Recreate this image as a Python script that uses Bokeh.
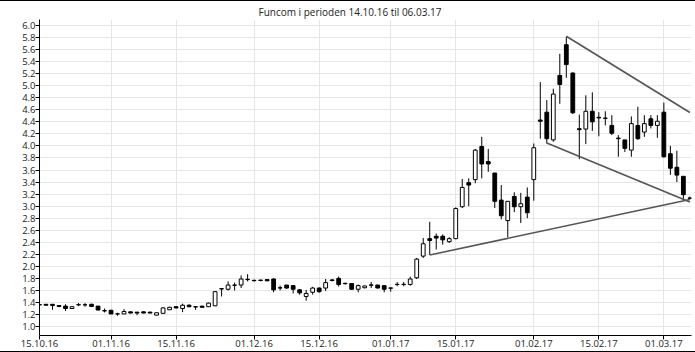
import numpy as np
import pandas as pd
from bokeh.plotting import figure
from bokeh.models import ColumnDataSource, FixedTicker, Range1d, NumeralTickFormatter
from bokeh.embed import file_html
from bokeh.resources import INLINE

title_text = "Funcom i perioden 14.10.16 til 06.03.17"

# Daily OHLC, one entry per trading day starting 17.10.16
opens = [1.365, 1.37, 1.37, 1.35, 1.34, 1.30, 1.36, 1.36, 1.37, 1.34,
         1.265, 1.27, 1.21, 1.21, 1.245, 1.24, 1.245, 1.24, 1.19, 1.22,
         1.28, 1.33, 1.30, 1.355, 1.33, 1.34, 1.33, 1.345, 1.625, 1.62,
         1.685, 1.69, 1.785, 1.768, 1.765, 1.78, 1.79, 1.645, 1.69, 1.68,
         1.61, 1.50, 1.57, 1.64, 1.64, 1.775, 1.80, 1.718, 1.715, 1.62,
         1.645, 1.692, 1.69, 1.68, 1.642, 1.702, 1.702, 1.70, 1.81, 2.17,
         2.46, 2.50, 2.50, 2.41, 2.46, 2.99, 3.39, 3.44, 3.99, 3.74,
         3.55, 3.10, 2.76, 3.16, 2.99, 3.15, 3.44, 4.43, 4.56, 4.10,
         5.17, 5.68, 5.21, 4.285, 4.28, 4.575, 4.475, 4.462, 4.34, 4.12,
         4.10, 3.93, 4.34, 4.23, 4.45, 4.34, 4.56, 3.87, 3.645, 3.495,
         3.135]
highs = [1.37, 1.375, 1.37, 1.35, 1.37, 1.33, 1.39, 1.39, 1.38, 1.34,
         1.30, 1.28, 1.23, 1.29, 1.25, 1.24, 1.25, 1.245, 1.23, 1.32,
         1.33, 1.34, 1.38, 1.37, 1.33, 1.345, 1.40, 1.59, 1.635, 1.75,
         1.73, 1.85, 1.87, 1.78, 1.78, 1.785, 1.80, 1.68, 1.69, 1.685,
         1.625, 1.61, 1.66, 1.65, 1.79, 1.79, 1.83, 1.73, 1.72, 1.70,
         1.68, 1.74, 1.695, 1.685, 1.645, 1.74, 1.74, 1.83, 2.14, 2.47,
         2.74, 2.545, 2.53, 2.485, 2.98, 3.45, 3.46, 3.95, 4.15, 3.95,
         3.55, 3.35, 3.08, 3.23, 3.22, 3.31, 4.04, 5.06, 4.76, 4.95,
         5.53, 5.81, 5.22, 4.52, 4.84, 4.89, 4.56, 4.575, 4.51, 4.18,
         4.10, 4.49, 4.65, 4.51, 4.51, 4.51, 4.72, 4.00, 3.92, 3.495,
         3.16]
lows = [1.35, 1.35, 1.28, 1.32, 1.26, 1.30, 1.34, 1.33, 1.33, 1.27,
        1.235, 1.21, 1.18, 1.21, 1.22, 1.19, 1.22, 1.22, 1.19, 1.22,
        1.28, 1.30, 1.24, 1.32, 1.28, 1.315, 1.33, 1.34, 1.50, 1.60,
        1.60, 1.64, 1.75, 1.75, 1.75, 1.755, 1.57, 1.60, 1.63, 1.55,
        1.53, 1.43, 1.53, 1.56, 1.59, 1.75, 1.665, 1.70, 1.61, 1.57,
        1.635, 1.64, 1.635, 1.57, 1.58, 1.67, 1.67, 1.68, 1.79, 2.14,
        2.19, 2.28, 2.36, 2.39, 2.45, 2.97, 3.00, 3.38, 3.46, 3.57,
        2.97, 2.78, 2.485, 2.90, 2.72, 2.80, 3.09, 4.12, 4.04, 4.07,
        4.70, 5.13, 4.53, 3.78, 4.03, 4.25, 4.16, 4.34, 4.18, 3.82,
        3.90, 3.82, 4.10, 4.15, 4.29, 4.135, 3.805, 3.52, 3.40, 3.11,
        3.11]
closes = [1.36, 1.355, 1.35, 1.335, 1.30, 1.33, 1.365, 1.362, 1.335, 1.275,
          1.26, 1.21, 1.212, 1.25, 1.225, 1.225, 1.225, 1.225, 1.23, 1.31,
          1.32, 1.31, 1.355, 1.33, 1.325, 1.32, 1.39, 1.58, 1.63, 1.69,
          1.69, 1.79, 1.78, 1.762, 1.772, 1.76, 1.61, 1.64, 1.64, 1.62,
          1.56, 1.55, 1.64, 1.58, 1.73, 1.765, 1.70, 1.712, 1.62, 1.68,
          1.675, 1.688, 1.64, 1.62, 1.638, 1.698, 1.698, 1.79, 2.12, 2.375,
          2.43, 2.47, 2.44, 2.46, 2.96, 3.31, 3.35, 3.93, 3.70, 3.70,
          3.08, 2.84, 3.08, 2.99, 3.04, 2.89, 3.97, 4.41, 4.12, 4.86,
          5.02, 5.35, 4.55, 4.27, 4.575, 4.40, 4.465, 4.458, 4.21, 4.13,
          3.96, 4.37, 4.12, 4.37, 4.34, 4.41, 3.82, 3.63, 3.515, 3.19,
          3.13]

first_day = "2016-10-17"
last_day = "2017-03-07"
holidays = ["2016-12-26"]

tick_dates = ["2016-10-15", "2016-11-01", "2016-11-15", "2016-12-01", "2016-12-15",
              "2017-01-01", "2017-01-15", "2017-02-01", "2017-02-15", "2017-03-01"]
tick_labels = ["15.10.16", "01.11.16", "15.11.16", "01.12.16", "15.12.16",
               "01.01.17", "15.01.17", "01.02.17", "15.02.17", "01.03.17"]
y_ticks = [1.0, 1.2, 1.4, 1.6, 1.8, 2.0, 2.2, 2.4, 2.6, 2.8, 3.0, 3.2, 3.4,
           3.6, 3.8, 4.0, 4.2, 4.4, 4.6, 4.8, 5.0, 5.2, 5.4, 5.6, 5.8, 6.0]

# hand-drawn trend lines (date, price)
support_dates = ["2017-01-10", "2017-03-07"]
support_vals = [2.19, 3.11]
resist_dates = ["2017-02-08", "2017-03-07"]
resist_vals = [5.82, 4.555]
channel_dates = ["2017-02-03", "2017-03-07"]
channel_vals = [4.05, 3.07]

days = pd.bdate_range(first_day, last_day)
days = days[~days.isin(pd.to_datetime(holidays))]
n = len(days)
idx = np.arange(n)


def pos(d):
    return int(days.searchsorted(pd.Timestamp(d)))


o = np.array(opens[:n]); h = np.array(highs[:n]); l = np.array(lows[:n]); c = np.array(closes[:n])
up = c >= o
src = ColumnDataSource(dict(
    x=idx, o=o, h=h, l=l, c=c,
    top=np.maximum(o, c), bottom=np.minimum(o, c),
    fill=["white" if u else "black" for u in up],
))

p = figure(width=695, height=350, output_backend="svg", toolbar_location=None,
           x_range=Range1d(0, 100.25), y_range=Range1d(0.852, 6.099),
           min_border_left=39, min_border_right=4, min_border_top=15, min_border_bottom=18,
           title=title_text)
p.styles = {"border-top": "1px solid black", "border-bottom": "1px solid black",
            "box-sizing": "content-box"}
p.outline_line_color = None
p.background_fill_color = "white"
p.border_fill_color = "white"

p.title.text_font = "Open Sans"
p.title.text_font_size = "10px"
p.title.text_font_style = "normal"
p.title.text_color = "#222222"
p.title.align = "left"
p.title.offset = 219
p.title.standoff = 2

p.segment(x0="x", y0="l", x1="x", y1="h", source=src, line_color="black", line_width=1)
p.vbar(x="x", width=0.58, top="top", bottom="bottom", source=src,
       fill_color="fill", line_color="black", line_width=1)

for dts, vals in ((support_dates, support_vals), (resist_dates, resist_vals),
                  (channel_dates, channel_vals)):
    p.line([pos(d) for d in dts], vals, line_color="#555555", line_width=1.6)

p.xaxis.ticker = FixedTicker(ticks=[pos(d) for d in tick_dates])
p.xaxis.major_label_overrides = {pos(d): lab for d, lab in zip(tick_dates, tick_labels)}
p.yaxis.ticker = FixedTicker(ticks=y_ticks)
p.yaxis.formatter = NumeralTickFormatter(format="0.0")

for ax in (p.xaxis[0], p.yaxis[0]):
    ax.axis_line_color = "black"
    ax.axis_line_width = 1
    ax.major_tick_line_color = "black"
    ax.major_tick_out = 4
    ax.major_tick_in = 0
    ax.minor_tick_line_color = None
    ax.major_label_text_font = "Open Sans"
    ax.major_label_text_font_size = "9.5px"
    ax.major_label_text_color = "#222222"
    ax.major_label_standoff = 0

p.xgrid.grid_line_color = "#e6e6e6"
p.ygrid.grid_line_color = "#e6e6e6"

open("out.html", "w").write(file_html(p, INLINE))
